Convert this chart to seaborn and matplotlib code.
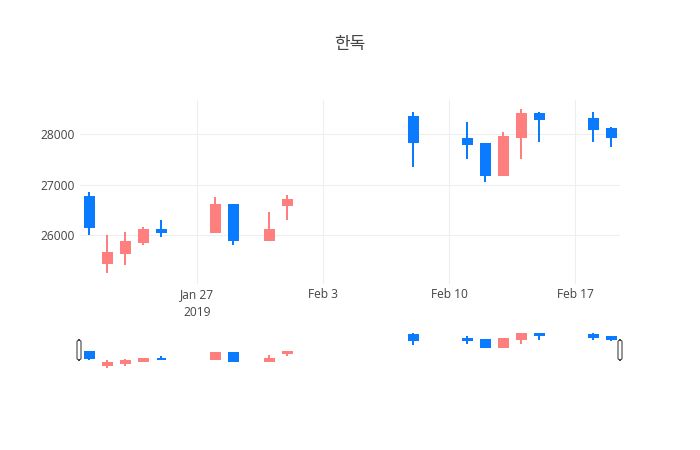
import matplotlib
matplotlib.use("Agg")
import matplotlib.pyplot as plt
import matplotlib.dates as mdates
from matplotlib.patches import FancyBboxPatch
import seaborn as sns
import pandas as pd
import numpy as np

# ---- data ----
dates = ['2019-01-21', '2019-01-22', '2019-01-23', '2019-01-24', '2019-01-25',
         '2019-01-28', '2019-01-29', '2019-01-31', '2019-02-01', '2019-02-08',
         '2019-02-11', '2019-02-12', '2019-02-13', '2019-02-14', '2019-02-15',
         '2019-02-18', '2019-02-19']
opens = [26750, 25450, 25650, 25850, 26100, 26050, 26600, 25900, 26600, 28350,
         27900, 27800, 27200, 27950, 28400, 28300, 28100]
highs = [26850, 26000, 26050, 26150, 26300, 26750, 26600, 26450, 26800, 28450,
         28250, 27800, 28050, 28500, 28450, 28450, 28150]
lows = [26000, 25250, 25400, 25800, 25950, 26050, 25800, 25900, 26300, 27350,
        27500, 27050, 27200, 27500, 27850, 27850, 27750]
closes = [26150, 25650, 25850, 26100, 26050, 26600, 25900, 26100, 26700, 27850,
          27800, 27200, 27950, 28400, 28300, 28100, 27950]
title = '한독'
y_ticks = [26000, 27000, 28000]
x_ticks = ['2019-01-27', '2019-02-03', '2019-02-10', '2019-02-17']
x_tick_labels = ['Jan 27\n2019', 'Feb 3', 'Feb 10', 'Feb 17']

UP = '#ff7f7f'
DOWN = '#0a7bff'

sns.set_theme(style='white')
plt.rcParams['font.family'] = ['Open Sans', 'DejaVu Sans']

df = pd.DataFrame({'date': pd.to_datetime(dates), 'open': opens, 'high': highs,
                   'low': lows, 'close': closes})
df['x'] = mdates.date2num(df['date'])
df['color'] = np.where(df['close'] >= df['open'], UP, DOWN)
df['bottom'] = df[['open', 'close']].min(axis=1)
df['height'] = (df['close'] - df['open']).abs()

fig = plt.figure(figsize=(7, 4.5), dpi=100)
W, H = 700, 450
ax = fig.add_axes([80 / W, (H - 284) / H, 540 / W, 184 / H])
sax = fig.add_axes([80 / W, (H - 370) / H, 540 / W, 39 / H])

xmin = mdates.date2num(pd.Timestamp('2019-01-20 12:00'))
xmax = mdates.date2num(pd.Timestamp('2019-02-19 12:00'))
ylo, yhi = 25024, 28682


def draw(a, lw):
    a.vlines(df['x'], df['low'], df['high'], colors=df['color'], linewidth=lw, zorder=2)
    a.bar(df['x'], df['height'], width=0.5, bottom=df['bottom'], color=df['color'],
          edgecolor=df['color'], linewidth=lw, zorder=3)
    a.set_xlim(xmin, xmax)
    a.set_ylim(ylo, yhi)
    for s in a.spines.values():
        s.set_visible(False)


draw(ax, 1.44)
draw(sax, 1.44)

ax.set_yticks(y_ticks)
ax.set_yticklabels([str(v) for v in y_ticks])
ax.set_xticks(mdates.date2num(pd.to_datetime(x_ticks)))
ax.set_xticklabels(x_tick_labels, linespacing=1.45)
ax.tick_params(axis='both', length=0, labelsize=8.64, colors='#444444')
ax.tick_params(axis='x', pad=3)
ax.tick_params(axis='y', pad=4)
ax.grid(True, color='#eeeeee', linewidth=0.8, zorder=0)
ax.set_axisbelow(True)

sax.set_xticks([])
sax.set_yticks([])

# range slider handles
for cx in (79, 620):
    p = FancyBboxPatch(((cx - 2) / W, (H - 360) / H), 4 / W, 20 / H,
                       boxstyle='round,pad=0,rounding_size=0.004',
                       transform=fig.transFigure, facecolor='white',
                       edgecolor='#444444', linewidth=0.8, zorder=5)
    fig.patches.append(p)

fig.text(0.5, 1 - 44 / H, title, ha='center', va='center', fontsize=12.24,
         color='#444444', family=['Noto Sans CJK KR', 'DejaVu Sans'])

fig.savefig('out.png', dpi=100)
